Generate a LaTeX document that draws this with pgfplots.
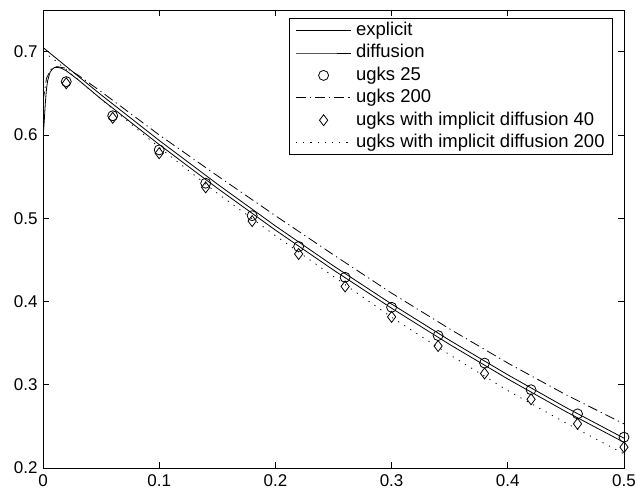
\documentclass[border=0pt]{standalone}
\usepackage{fontspec}
\setmainfont{Liberation Sans}
\usepackage{pgfplots}
\pgfplotsset{compat=1.18}
\begin{document}
\begin{tikzpicture}
\begin{axis}[
  scale only axis, width=581pt, height=458pt,
  xmin=0, xmax=0.5, ymin=0.2, ymax=0.75,
  xtick={0,0.1,0.2,0.3,0.4,0.5},
  xticklabels={0,0.1,0.2,0.3,0.4,0.5},
  ytick={0.2,0.3,0.4,0.5,0.6,0.7},
  yticklabels={0.2,0.3,0.4,0.5,0.6,0.7},
  tick align=inside, major tick length=6pt,
  tick pos=both,
  tick style={black, line width=0.8pt},
  axis line style={line width=0.8pt},
  /pgf/number format/assume math mode=true,
  tick label style={font=\fontsize{17}{20}\selectfont},
  xticklabel style={yshift=-3pt},
  yticklabel style={xshift=-2pt},
  legend style={at={(1,1)}, anchor=north east, xshift=-11pt, yshift=-8pt,
    draw=black, line width=0.8pt, fill=white,
    font=\fontsize{18.5}{22}\selectfont,
    inner xsep=6pt, inner ysep=1pt, row sep=0pt,
    nodes={inner sep=2pt, text height=14pt, text depth=4.4pt}},
  legend cell align=left,
  legend image code/.code={\path[draw=none] (0pt,0pt) (58pt,0pt);\draw[mark repeat=2, mark phase=2, #1] plot coordinates {(0pt,0pt)(27.5pt,0pt)(55pt,0pt)};},
]
% explicit
\addplot[black, line width=0.8pt, mark=none] coordinates {
(0,0.595)(0.001,0.615)(0.002,0.638)(0.003,0.655)(0.004,0.665)(0.006,0.675)(0.008,0.679)
(0.010,0.681)(0.013,0.681)(0.016,0.680)(0.02,0.677)(0.03,0.6665)(0.05,0.6431)(0.10,0.5884)
(0.15,0.5360)(0.20,0.4857)(0.25,0.4377)(0.30,0.3919)(0.35,0.3483)(0.40,0.3069)(0.45,0.2677)(0.50,0.2308)};
\addlegendentry{explicit}
% diffusion
\addplot[black, line width=0.8pt, mark=none] coordinates {
(0,0.705)(0.05,0.6481)(0.10,0.5934)(0.15,0.5410)(0.20,0.4907)(0.25,0.4427)(0.30,0.3969)
(0.35,0.3533)(0.40,0.3119)(0.45,0.2727)(0.50,0.2358)};
\addlegendentry{diffusion}
% ugks 25
\addplot[black, only marks, mark=o, mark size=5pt, line width=0.8pt] coordinates {
(0.02,0.664)(0.06,0.623)(0.10,0.582)(0.14,0.542)(0.18,0.503)(0.22,0.466)(0.26,0.429)
(0.30,0.393)(0.34,0.359)(0.38,0.326)(0.42,0.294)(0.46,0.265)(0.50,0.237)};
\addlegendentry{ugks 25}
% ugks 200
\addplot[black, line width=0.8pt, mark=none, dash pattern=on 10pt off 4pt on 1.2pt off 4pt] coordinates {
(0,0.64)(0.003,0.668)(0.007,0.679)(0.012,0.682)(0.02,0.680)(0.03,0.672)(0.05,0.652)(0.10,0.600)
(0.15,0.551)(0.20,0.503)(0.25,0.456)(0.30,0.410)(0.35,0.367)(0.40,0.326)(0.45,0.288)(0.50,0.253)};
\addlegendentry{ugks 200}
% ugks with implicit diffusion 40
\addplot[black, only marks, mark=diamond, mark size=5.5pt, line width=0.8pt] coordinates {
(0.02,0.662)(0.06,0.6205)(0.10,0.578)(0.14,0.537)(0.18,0.4965)(0.22,0.457)(0.26,0.418)
(0.30,0.3815)(0.34,0.3465)(0.38,0.3135)(0.42,0.2825)(0.46,0.253)(0.50,0.225)};
\addlegendentry{ugks with implicit diffusion 40}
% ugks with implicit diffusion 200
\addplot[black, line width=0.8pt, mark=none, dash pattern=on 1.2pt off 6pt] coordinates {
(0,0.700)(0.01,0.690)(0.05,0.643)(0.10,0.585)(0.15,0.530)(0.20,0.479)(0.25,0.430)
(0.30,0.381)(0.35,0.336)(0.40,0.293)(0.45,0.254)(0.50,0.217)};
\addlegendentry{ugks with implicit diffusion 200}
\end{axis}
\pgfresetboundingbox
\path ([shift={(-43pt,-27pt)}]current axis.south west) rectangle ([shift={(13pt,10pt)}]current axis.north east);
\end{tikzpicture}
\end{document}
